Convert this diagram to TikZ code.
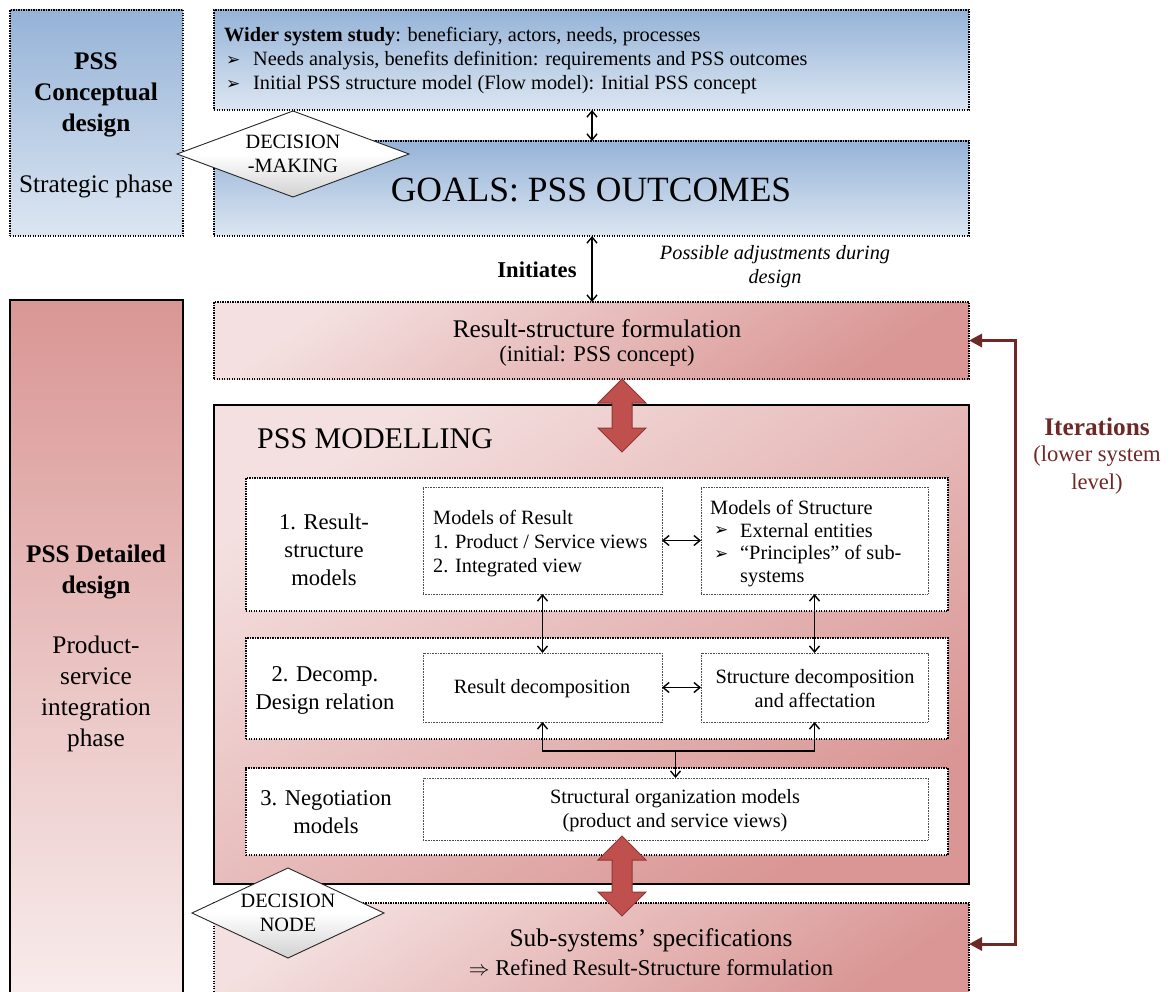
\documentclass[tikz,border=0pt]{standalone}
\usepackage{fontspec}
\setmainfont{Liberation Serif}
\newfontfamily\symf{DejaVu Sans}
\usetikzlibrary{arrows.meta,shapes.geometric,calc}
\definecolor{bluetop}{HTML}{95B3D7}
\definecolor{bluebot}{HTML}{DCE6F2}
\definecolor{pinkdark}{HTML}{D99694}
\definecolor{pinklight}{HTML}{F4E0E0}
\definecolor{fatred}{HTML}{C0504D}
\definecolor{fatedge}{HTML}{8C3836}
\definecolor{iterred}{HTML}{6E2826}
\newcommand\szS{\fontsize{20.3}{24}\selectfont}
\newcommand\szM{\fontsize{22.6}{28}\selectfont}
\newcommand\szT{\fontsize{25.4}{30}\selectfont}
\newcommand\szL{\fontsize{25.3}{31}\selectfont}
\newcommand\bul{{\symf\fontsize{17}{20}\selectfont ➢}}
\tikzset{
  box/.style={anchor=north west, inner sep=0pt, outer sep=0pt},
  dotbox/.style={box, draw=black, line width=1.4pt, dash pattern=on 1.4pt off 1.1pt},
  solidbox/.style={box, draw=black, line width=1.3pt},
  innerbox/.style={box, draw=black!70, line width=0.6pt, dash pattern=on 0.8pt off 0.8pt, fill=white},
  blueshade/.style={top color=bluetop, bottom color=bluebot},
  pinkdiag/.style={shading=axis, top color=pinklight, bottom color=pinkdark, shading angle=35},
  pinkvert/.style={top color=pinkdark, bottom color=pinklight!60!white},
  txt/.style={inner sep=0pt, align=center},
  dbl/.style={{Straight Barb[length=6pt,width=10pt]}-{Straight Barb[length=6pt,width=10pt]}, line width=1.4pt},
  sgl/.style={-{Straight Barb[length=6pt,width=10pt]}, line width=1.4pt},
  dframe/.style={inner sep=0pt, outer sep=0pt},
  dfill/.style={draw=black!85, line width=0.9pt, top color=white, bottom color=black!18, middle color=white},
  iter/.style={{Triangle[length=13pt,width=13pt]}-{Triangle[length=13pt,width=13pt]}, line width=3pt, draw=iterred},
  fat/.style={fill=fatred, draw=fatedge, line width=1pt, line join=miter},
}
\newcommand\fatarrow[3]{%
  \path[fat] (#1,#2) -- (#1+24,#2+24) -- (#1+10,#2+24) -- (#1+10,#3-24) -- (#1+24,#3-24)
    -- (#1,#3) -- (#1-24,#3-24) -- (#1-10,#3-24) -- (#1-10,#2+24) -- (#1-24,#2+24) -- cycle;}
\newcommand\diam[1]{\path[dfill] (#1.north) -- (#1.east) -- (#1.south) -- (#1.west) -- cycle;}
\begin{document}
\begin{tikzpicture}[x=1pt,y=-1pt]
\useasboundingbox (0,0) rectangle (1172,992);

% left phase boxes
\node[dotbox, blueshade, minimum width=173pt, minimum height=226pt] (cd) at (10,10) {};
\node[txt, font=\szL\bfseries] (cdt) at (96,95) {PSS\\Conceptual\\design};
\node[txt, font=\szL] (cds) at (96,186) {Strategic phase};

\node[solidbox, pinkvert, minimum width=173pt, minimum height=700pt] (dd) at (10,300) {};
\node[txt, font=\szL\bfseries] (ddt) at (96,572) {PSS Detailed\\design};
\node[txt, font=\szL] (dds) at (96,694) {Product-\\service\\integration\\phase};

% top study box
\node[dotbox, blueshade, minimum width=755pt, minimum height=100pt] (top) at (214,10) {};
\node[txt, anchor=west, font=\szS] (t1) at (224,37) {\textbf{Wider system study}: beneficiary, actors, needs, processes};
\node[txt, anchor=west] (b1) at (226,61) {\bul};
\node[txt, anchor=west, font=\szS] (t2) at (253,61) {Needs analysis, benefits definition: requirements and PSS outcomes};
\node[txt, anchor=west] (b2) at (226,85) {\bul};
\node[txt, anchor=west, font=\szS] (t3) at (253,85) {Initial PSS structure model (Flow model): Initial PSS concept};

% goals box
\node[dotbox, blueshade, minimum width=755pt, minimum height=95pt] (goals) at (214,141) {};
\node[txt, font=\fontsize{35.5}{40}\selectfont] (gt) at (591,190) {GOALS: PSS OUTCOMES};

% result-structure formulation
\node[dotbox, pinkdiag, minimum width=755pt, minimum height=77pt] (rsf) at (214,302) {};
\node[txt, font=\szT] (rsft) at (597,329) {Result-structure formulation};
\node[txt, font=\szM] (rsfs) at (597,356) {(initial: PSS concept)};

\coordinate (cx) at (592,0);
\draw[dbl] (top.south -| cx) -- (goals.north -| cx);
\draw[dbl] (goals.south -| cx) -- (rsf.north -| cx);
\node[txt, font=\szM\bfseries] (init) at (537,270) {Initiates};
\node[txt, font=\szS\itshape] (adj) at (775,267) {Possible adjustments during\\design};

% PSS modelling
\node[solidbox, pinkdiag, minimum width=755pt, minimum height=479pt] (pm) at (214,405) {};
\node[txt, anchor=west, font=\fontsize{30}{34}\selectfont] (pmt) at (257,439) {PSS MODELLING};

% bands
\node[dotbox, fill=white, minimum width=702pt, minimum height=133pt] (band1) at (246,478) {};
\node[dotbox, fill=white, minimum width=702pt, minimum height=101pt] (band2) at (246,638) {};
\node[dotbox, fill=white, minimum width=702pt, minimum height=87pt] (band3) at (246,768) {};

\node[txt, font=\szM] (l1) at (324,550) {1. Result-\\structure\\models};
\node[txt, font=\szM] (l2) at (325,690) {2. Decomp.\\Design relation};
\node[txt, font=\szM] (l3) at (326,812) {3. Negotiation\\models};

\node[innerbox, minimum width=239pt, minimum height=107pt] (mr) at (423,487) {};
\node[txt, anchor=west, align=left, font=\szS] (mrt) at (433,544) {Models of Result\\1. Product / Service views\\2. Integrated view};

\node[innerbox, minimum width=227pt, minimum height=107pt] (ms) at (701,487) {};
\node[txt, anchor=west, font=\szS] (mst) at (710,507) {Models of Structure};
\node[txt, anchor=west] (mb1) at (714,531) {\bul};
\node[txt, anchor=west, font=\szS] (ms1) at (740,531) {External entities};
\node[txt, anchor=west] (mb2) at (714,555) {\bul};
\node[txt, anchor=west, font=\szS] (ms2) at (740,555) {“Principles” of sub-};
\node[txt, anchor=west, font=\szS] (ms3) at (740,579) {systems};

\node[innerbox, minimum width=239pt, minimum height=69pt] (rd) at (423,653) {};
\node[txt, font=\szS] (rdt) at (542,689) {Result decomposition};
\node[innerbox, minimum width=227pt, minimum height=69pt] (sd) at (701,653) {};
\node[txt, font=\szS] (sdt) at (815,689) {Structure decomposition\\and affectation};

\node[innerbox, minimum width=505pt, minimum height=62pt] (so) at (423,778) {};
\node[txt, font=\szS] (sot) at (675,811) {Structural organization models\\(product and service views)};

\draw[dbl] (mr.east) -- (ms.west);
\draw[dbl] (rd.east) -- (sd.west);
\draw[dbl] (mr.south) -- (rd.north);
\draw[dbl] (ms.south) -- (sd.north);
\coordinate (j) at (0,751);
\draw[dbl] (rd.south) -- (rd.south |- j) -- (sd.south |- j) -- (sd.south);
\draw[sgl] (so.north |- j) -- (so.north);

% sub-systems specifications
\node[dotbox, pinkdiag, minimum width=755pt, minimum height=100pt] (sub) at (214,903) {};
\node[txt, font=\szT] (subt) at (651,940) {Sub-systems’ specifications};
\node[txt, font=\szM] (subs) at (651,968) {$\Rightarrow$ Refined Result-Structure formulation};

% fat arrows
\fatarrow{622}{379}{452}
\fatarrow{622}{836}{916}

% decision diamonds
\node[dframe, minimum width=232pt, minimum height=86pt] (dm) at (293,154) {};
\diam{dm}
\node[txt, font=\szS] (dmt) at (dm.center) {DECISION\\-MAKING};
\node[dframe, minimum width=192pt, minimum height=90pt] (dn) at (288,913) {};
\diam{dn}
\node[txt, font=\szS] (dnt) at (dn.center) {DECISION\\NODE};

% iterations
\coordinate (ir) at (1015,0);
\coordinate (lowend) at (969,944);
\draw[iter] (lowend) -- (lowend -| ir) -- (rsf.east -| ir) -- (rsf.east);
\node[txt, font=\szL\bfseries, text=iterred] (itt) at (1097,427) {Iterations};
\node[txt, font=\szM, text=iterred] (its) at (1097,470) {(lower system\\level)};
\end{tikzpicture}
\end{document}
